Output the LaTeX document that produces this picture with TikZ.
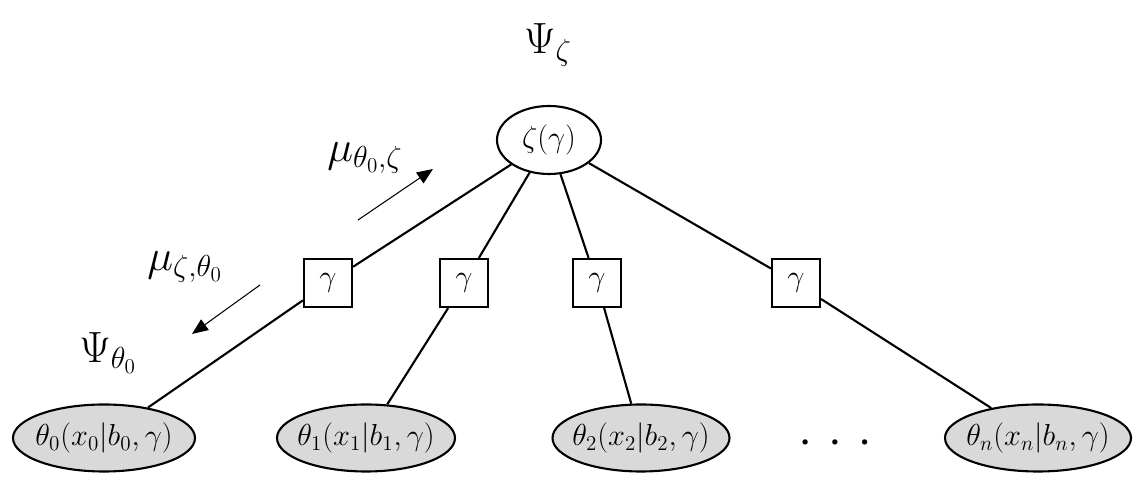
\documentclass[tikz,border=0pt]{standalone}
\usepackage{xcolor}
\usepackage{tikz}
\usetikzlibrary{shapes.geometric, arrows.meta, positioning, calc}
\usepackage{amsmath,amssymb}
\definecolor{nodegray}{RGB}{217,217,217}
\newcommand{\nowidth}[1]{\makebox[0pt]{$#1$}}

\begin{document}
\begin{tikzpicture}[
    big/.style={font=\fontsize{17.5}{20}\selectfont},
    huge/.style={font=\fontsize{23}{27}\selectfont},
    var/.style={ellipse, draw, line width=1.2pt, inner sep=0pt, minimum width=2.08cm, minimum height=1.36cm, big},
    obs/.style={ellipse, draw, line width=1.2pt, fill=nodegray, inner sep=0pt, minimum width=3.64cm, minimum height=1.34cm, big},
    fac/.style={rectangle, draw, line width=1.2pt, inner sep=0pt, minimum size=0.96cm, big},
    link/.style={line width=1.2pt},
    msg/.style={line width=0.6pt, -{Triangle[length=0.32cm, width=0.26cm]}},
]
\useasboundingbox (0,0) rectangle (22.88,9.88);

% top variable
\node[var] (zeta) at (10.98,7.08) {\nowidth{\zeta(\gamma)}};
\node[huge] (psiz) at (10.96,8.98) {$\Psi_\zeta$};

% factors
\node[fac] (f0) at (6.56,4.22) {$\gamma$};
\node[fac] (f1) at (9.28,4.22) {$\gamma$};
\node[fac] (f2) at (11.94,4.22) {$\gamma$};
\node[fac] (fn) at (15.92,4.22) {$\gamma$};

% observed variables
\node[obs] (t0) at (2.08,1.12) {\nowidth{\theta_0(x_0|b_0,\gamma)}};
\node[obs, minimum width=3.56cm] (t1) at (7.32,1.12) {\nowidth{\theta_1(x_1|b_1,\gamma)}};
\node[obs, minimum width=3.54cm] (t2) at (12.82,1.12) {\nowidth{\theta_2(x_2|b_2,\gamma)}};
\node[obs, minimum width=3.72cm] (tn) at (20.76,1.12) {\nowidth{\theta_n(x_n|b_n,\gamma)}};
\node[font=\fontsize{7.5}{9}\selectfont] (dots) at (16.7,1.02) {$\bullet\hspace{11pt}\bullet\hspace{11pt}\bullet$};

% edges
\draw[link] (zeta) -- (f0) -- (t0);
\draw[link] (zeta) -- (f1) -- (t1);
\draw[link] (zeta) -- (f2) -- (t2);
\draw[link] (zeta) -- (fn) -- (tn);

% messages
\node[huge] (psit) at (2.16,2.82) {$\Psi_{\theta_0}$};
\node[huge] (mup) at (7.3,6.72) {$\mu_{\theta_0,\zeta}$};
\node[huge] (mudn) at (3.7,4.54) {$\mu_{\zeta,\theta_0}$};
\coordinate (up1) at (7.16,5.48);
\coordinate (up2) at (8.66,6.50);
\coordinate (dn1) at (5.2,4.18);
\coordinate (dn2) at (3.84,3.20);
\draw[msg] (up1) -- (up2);
\draw[msg] (dn1) -- (dn2);

\end{tikzpicture}
\end{document}
